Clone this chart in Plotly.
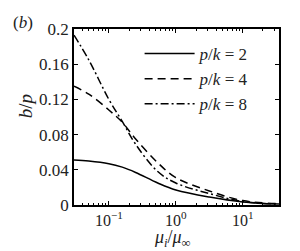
import plotly.graph_objects as go
import numpy as np

# x values (mu_i / mu_inf), read at log10 positions
x_log = [-1.52, -1.3, -1.0, -0.8, -0.6, -0.27, 0.0, 0.5, 1.0, 1.54]
x_vals = [10 ** v for v in x_log]

b_pk2 = [0.051, 0.050, 0.047, 0.043, 0.037, 0.025, 0.017, 0.009, 0.0035, 0.001]
b_pk4 = [0.135, 0.126, 0.108, 0.094, 0.075, 0.048, 0.031, 0.016, 0.005, 0.0015]
b_pk8 = [0.193, 0.165, 0.120, 0.095, 0.069, 0.038, 0.025, 0.013, 0.004, 0.001]

names = ["<i>p</i>/<i>k</i> = 2", "<i>p</i>/<i>k</i> = 4", "<i>p</i>/<i>k</i> = 8"]
dashes = ["solid", "8px,5px", "8px,3px,2px,3px"]

y_ticks = [0, 0.04, 0.08, 0.12, 0.16, 0.2]
y_ticklabels = ["0", "0.04", "0.08", "0.12", "0.16", "0.2"]

FONT = "Liberation Serif"

fig = go.Figure()
for yv, nm, ds in zip([b_pk2, b_pk4, b_pk8], names, dashes):
    fig.add_trace(go.Scatter(x=x_vals, y=yv, mode="lines", name=nm,
                             line=dict(color="black", width=1.5, dash=ds, shape="spline")))

fig.update_layout(
    width=300, height=251,
    margin=dict(l=66, r=29, t=19, b=54),
    plot_bgcolor="white", paper_bgcolor="white",
    font=dict(family=FONT, size=17, color="#222"),
    showlegend=True,
    legend=dict(x=0.32, y=0.96, xanchor="left", yanchor="top",
                bgcolor="rgba(0,0,0,0)", font=dict(size=17, family=FONT),
                itemwidth=50, tracegroupgap=0),
    annotations=[
        dict(text="(<i>b</i>)", x=-0.25, y=1.035, xref="paper", yref="paper",
             showarrow=False, font=dict(size=17, family=FONT), xanchor="center", yanchor="middle"),
        dict(text="<i>b</i>/<i>p</i>", x=-0.235, y=0.56, xref="paper", yref="paper",
             showarrow=False, textangle=-90, font=dict(size=19, family=FONT),
             xanchor="center", yanchor="middle"),
        dict(text="<i>μ<sub>i</sub></i>/<i>μ</i><sub>∞</sub>", x=0.48, y=-0.19, xref="paper", yref="paper",
             showarrow=False, font=dict(size=18, family=FONT), xanchor="center", yanchor="middle"),
    ],
)

fig.update_xaxes(type="log", range=[-1.52, 1.54],
                 showline=True, linecolor="black", linewidth=1.5, mirror="ticks",
                 ticks="inside", ticklen=4, tickcolor="black", tickwidth=1,
                 tickvals=[0.1, 1, 10], ticktext=["10<sup>−1</sup>", "10<sup>0</sup>", "10<sup>1</sup>"],
                 minor=dict(ticks="inside", ticklen=2, tickcolor="black",
                            tickvals=[v * m for v in [0.01, 0.1, 1, 10] for m in range(2, 10)]),
                 showgrid=False, zeroline=False, tickfont=dict(size=16, family=FONT))
fig.update_yaxes(range=[0, 0.2], tickvals=y_ticks, ticktext=y_ticklabels,
                 showline=True, linecolor="black", linewidth=1.5, mirror="ticks",
                 ticks="inside", ticklen=4, tickcolor="black", tickwidth=1,
                 showgrid=False, zeroline=False, tickfont=dict(size=17, family=FONT))

fig.write_html("out.html")
